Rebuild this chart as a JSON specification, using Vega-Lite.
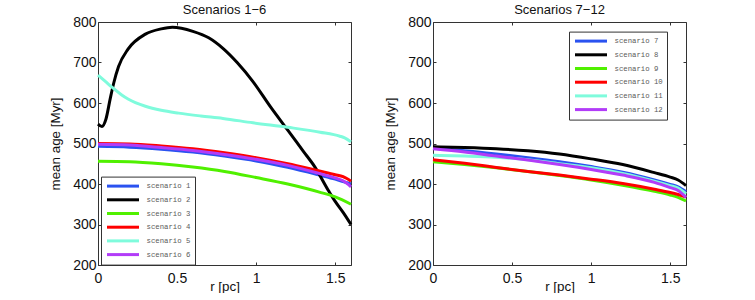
{
  "$schema": "https://vega.github.io/schema/vega-lite/v6.json",
  "padding": {"left": 48, "top": 3, "right": 5, "bottom": 0},
  "config": {
    "font": "Liberation Sans",
    "view": {"stroke": "#333", "strokeWidth": 1},
    "axis": {"grid": false, "domain": false, "tickColor": "#333", "tickSize": -3, "labelFontSize": 14, "labelColor": "#111", "titleFontSize": 13.4, "titleFontWeight": "normal", "titleColor": "#111", "labelFont": "Liberation Sans", "titleFont": "Liberation Sans", "labelFlush": false},
    "title": {"fontSize": 13, "fontWeight": "normal", "font": "Liberation Sans", "color": "#111", "offset": -2},
    "legend": {"title": null, "symbolType": "M-4,0H4", "symbolStrokeWidth": 3, "symbolSize": 64, "symbolOffset": 12.5, "labelFont": "Liberation Mono", "labelFontSize": 7.3, "labelColor": "#5a5a5a", "strokeColor": "#333", "fillColor": "white", "padding": 4, "rowPadding": 0.7, "labelOffset": 18, "labelExpr": "datum.label + '\u00a0\u00a0'"}
  },
  "datasets": {
    "a": [
      {"s": "scenario 1", "r": 0, "v": 493}, {"s": "scenario 1", "r": 0.2, "v": 491}, {"s": "scenario 1", "r": 0.4, "v": 486}, {"s": "scenario 1", "r": 0.6, "v": 479}, {"s": "scenario 1", "r": 0.8, "v": 469}, {"s": "scenario 1", "r": 1.0, "v": 457}, {"s": "scenario 1", "r": 1.2, "v": 441}, {"s": "scenario 1", "r": 1.4, "v": 422}, {"s": "scenario 1", "r": 1.5, "v": 412}, {"s": "scenario 1", "r": 1.55, "v": 406}, {"s": "scenario 1", "r": 1.6, "v": 400},
      {"s": "scenario 2", "r": 0, "v": 548}, {"s": "scenario 2", "r": 0.025, "v": 542}, {"s": "scenario 2", "r": 0.05, "v": 560}, {"s": "scenario 2", "r": 0.078, "v": 612}, {"s": "scenario 2", "r": 0.1, "v": 650}, {"s": "scenario 2", "r": 0.13, "v": 690}, {"s": "scenario 2", "r": 0.19, "v": 733}, {"s": "scenario 2", "r": 0.3, "v": 770}, {"s": "scenario 2", "r": 0.4, "v": 783}, {"s": "scenario 2", "r": 0.47, "v": 787}, {"s": "scenario 2", "r": 0.6, "v": 777}, {"s": "scenario 2", "r": 0.7, "v": 761}, {"s": "scenario 2", "r": 0.79, "v": 735}, {"s": "scenario 2", "r": 0.88, "v": 700}, {"s": "scenario 2", "r": 0.98, "v": 653}, {"s": "scenario 2", "r": 1.09, "v": 591}, {"s": "scenario 2", "r": 1.2, "v": 533}, {"s": "scenario 2", "r": 1.3, "v": 480}, {"s": "scenario 2", "r": 1.37, "v": 443}, {"s": "scenario 2", "r": 1.46, "v": 382}, {"s": "scenario 2", "r": 1.5, "v": 357}, {"s": "scenario 2", "r": 1.55, "v": 330}, {"s": "scenario 2", "r": 1.6, "v": 300},
      {"s": "scenario 3", "r": 0, "v": 456}, {"s": "scenario 3", "r": 0.2, "v": 455}, {"s": "scenario 3", "r": 0.4, "v": 450}, {"s": "scenario 3", "r": 0.6, "v": 442}, {"s": "scenario 3", "r": 0.8, "v": 431}, {"s": "scenario 3", "r": 1.0, "v": 416}, {"s": "scenario 3", "r": 1.2, "v": 400}, {"s": "scenario 3", "r": 1.4, "v": 380}, {"s": "scenario 3", "r": 1.5, "v": 368}, {"s": "scenario 3", "r": 1.6, "v": 350},
      {"s": "scenario 4", "r": 0, "v": 500}, {"s": "scenario 4", "r": 0.2, "v": 499}, {"s": "scenario 4", "r": 0.4, "v": 494}, {"s": "scenario 4", "r": 0.6, "v": 487}, {"s": "scenario 4", "r": 0.8, "v": 477}, {"s": "scenario 4", "r": 1.0, "v": 465}, {"s": "scenario 4", "r": 1.2, "v": 450}, {"s": "scenario 4", "r": 1.4, "v": 432}, {"s": "scenario 4", "r": 1.5, "v": 423}, {"s": "scenario 4", "r": 1.55, "v": 418}, {"s": "scenario 4", "r": 1.6, "v": 407},
      {"s": "scenario 5", "r": 0, "v": 669}, {"s": "scenario 5", "r": 0.05, "v": 652}, {"s": "scenario 5", "r": 0.088, "v": 639}, {"s": "scenario 5", "r": 0.15, "v": 620}, {"s": "scenario 5", "r": 0.19, "v": 610}, {"s": "scenario 5", "r": 0.3, "v": 592}, {"s": "scenario 5", "r": 0.4, "v": 582}, {"s": "scenario 5", "r": 0.51, "v": 575}, {"s": "scenario 5", "r": 0.65, "v": 568}, {"s": "scenario 5", "r": 0.79, "v": 562}, {"s": "scenario 5", "r": 0.98, "v": 551}, {"s": "scenario 5", "r": 1.2, "v": 540}, {"s": "scenario 5", "r": 1.405, "v": 528}, {"s": "scenario 5", "r": 1.53, "v": 518}, {"s": "scenario 5", "r": 1.56, "v": 514}, {"s": "scenario 5", "r": 1.6, "v": 504},
      {"s": "scenario 6", "r": 0, "v": 498}, {"s": "scenario 6", "r": 0.2, "v": 496}, {"s": "scenario 6", "r": 0.4, "v": 490}, {"s": "scenario 6", "r": 0.6, "v": 483}, {"s": "scenario 6", "r": 0.8, "v": 473}, {"s": "scenario 6", "r": 1.0, "v": 461}, {"s": "scenario 6", "r": 1.2, "v": 446}, {"s": "scenario 6", "r": 1.4, "v": 426}, {"s": "scenario 6", "r": 1.5, "v": 415}, {"s": "scenario 6", "r": 1.55, "v": 408}, {"s": "scenario 6", "r": 1.6, "v": 393}
    ],
    "b": [
      {"s": "scenario 7", "r": 0, "v": 488}, {"s": "scenario 7", "r": 0.2, "v": 482}, {"s": "scenario 7", "r": 0.4, "v": 474}, {"s": "scenario 7", "r": 0.6, "v": 465}, {"s": "scenario 7", "r": 0.8, "v": 455}, {"s": "scenario 7", "r": 1.0, "v": 443}, {"s": "scenario 7", "r": 1.2, "v": 429}, {"s": "scenario 7", "r": 1.4, "v": 410}, {"s": "scenario 7", "r": 1.5, "v": 399}, {"s": "scenario 7", "r": 1.55, "v": 393}, {"s": "scenario 7", "r": 1.6, "v": 381},
      {"s": "scenario 8", "r": 0, "v": 492}, {"s": "scenario 8", "r": 0.2, "v": 490}, {"s": "scenario 8", "r": 0.4, "v": 487}, {"s": "scenario 8", "r": 0.6, "v": 482}, {"s": "scenario 8", "r": 0.8, "v": 474}, {"s": "scenario 8", "r": 1.0, "v": 462}, {"s": "scenario 8", "r": 1.2, "v": 448}, {"s": "scenario 8", "r": 1.4, "v": 428}, {"s": "scenario 8", "r": 1.5, "v": 417}, {"s": "scenario 8", "r": 1.55, "v": 410}, {"s": "scenario 8", "r": 1.6, "v": 396},
      {"s": "scenario 9", "r": 0, "v": 455}, {"s": "scenario 9", "r": 0.2, "v": 448}, {"s": "scenario 9", "r": 0.4, "v": 440}, {"s": "scenario 9", "r": 0.6, "v": 431}, {"s": "scenario 9", "r": 0.8, "v": 421}, {"s": "scenario 9", "r": 1.0, "v": 410}, {"s": "scenario 9", "r": 1.2, "v": 397}, {"s": "scenario 9", "r": 1.4, "v": 382}, {"s": "scenario 9", "r": 1.5, "v": 373}, {"s": "scenario 9", "r": 1.55, "v": 367}, {"s": "scenario 9", "r": 1.6, "v": 358},
      {"s": "scenario 10", "r": 0, "v": 460}, {"s": "scenario 10", "r": 0.2, "v": 451}, {"s": "scenario 10", "r": 0.4, "v": 441}, {"s": "scenario 10", "r": 0.6, "v": 431}, {"s": "scenario 10", "r": 0.8, "v": 422}, {"s": "scenario 10", "r": 1.0, "v": 412}, {"s": "scenario 10", "r": 1.2, "v": 401}, {"s": "scenario 10", "r": 1.4, "v": 387}, {"s": "scenario 10", "r": 1.5, "v": 379}, {"s": "scenario 10", "r": 1.55, "v": 374}, {"s": "scenario 10", "r": 1.6, "v": 368},
      {"s": "scenario 11", "r": 0, "v": 471}, {"s": "scenario 11", "r": 0.2, "v": 469}, {"s": "scenario 11", "r": 0.4, "v": 466}, {"s": "scenario 11", "r": 0.6, "v": 460}, {"s": "scenario 11", "r": 0.8, "v": 450}, {"s": "scenario 11", "r": 1.0, "v": 440}, {"s": "scenario 11", "r": 1.2, "v": 426}, {"s": "scenario 11", "r": 1.4, "v": 407}, {"s": "scenario 11", "r": 1.5, "v": 396}, {"s": "scenario 11", "r": 1.55, "v": 390}, {"s": "scenario 11", "r": 1.6, "v": 376},
      {"s": "scenario 12", "r": 0, "v": 487}, {"s": "scenario 12", "r": 0.2, "v": 479}, {"s": "scenario 12", "r": 0.4, "v": 469}, {"s": "scenario 12", "r": 0.6, "v": 459}, {"s": "scenario 12", "r": 0.8, "v": 448}, {"s": "scenario 12", "r": 1.0, "v": 436}, {"s": "scenario 12", "r": 1.2, "v": 422}, {"s": "scenario 12", "r": 1.4, "v": 404}, {"s": "scenario 12", "r": 1.5, "v": 391}, {"s": "scenario 12", "r": 1.55, "v": 384}, {"s": "scenario 12", "r": 1.6, "v": 367}
    ]
  },
  "spacing": 25,
  "resolve": {"scale": {"color": "independent"}, "legend": {"color": "independent"}},
  "hconcat": [
    {
      "width": 253, "height": 243,
      "title": "Scenarios 1−6",
      "data": {"name": "a"},
      "resolve": {"axis": {"x": "independent", "y": "independent"}},
      "layer": [
        {
          "mark": {"type": "line", "strokeWidth": 3, "interpolate": "monotone"},
          "encoding": {
            "x": {"field": "r", "type": "quantitative", "scale": {"domain": [0, 1.6]}, "axis": {"values": [0, 0.5, 1, 1.5], "format": "~g", "title": "r [pc]", "labelPadding": 9, "titlePadding": -6}},
            "y": {"field": "v", "type": "quantitative", "scale": {"domain": [200, 800]}, "axis": {"values": [200, 300, 400, 500, 600, 700, 800], "title": "mean age [Myr]", "labelPadding": 5, "titlePadding": 10}},
            "color": {"field": "s", "type": "nominal", "scale": {"domain": ["scenario 1", "scenario 2", "scenario 3", "scenario 4", "scenario 5", "scenario 6"], "range": ["#2a52f0", "#000000", "#50f000", "#ff0000", "#7ffbdc", "#b23cf8"]}, "legend": {"orient": "none", "legendX": 3, "legendY": 154.6}}
          }
        },
        {
          "mark": {"type": "point", "opacity": 0},
          "encoding": {
            "x": {"field": "r", "type": "quantitative", "scale": {"domain": [0, 1.6]}, "axis": {"orient": "top", "values": [0, 0.5, 1, 1.5], "labels": false, "title": null}},
            "y": {"field": "v", "type": "quantitative", "scale": {"domain": [200, 800]}, "axis": {"orient": "right", "values": [200, 300, 400, 500, 600, 700, 800], "labels": false, "title": null}}
          }
        }
      ]
    },
    {
      "width": 253, "height": 243,
      "title": "Scenarios 7−12",
      "data": {"name": "b"},
      "resolve": {"axis": {"x": "independent", "y": "independent"}},
      "layer": [
        {
          "mark": {"type": "line", "strokeWidth": 3, "interpolate": "monotone"},
          "encoding": {
            "x": {"field": "r", "type": "quantitative", "scale": {"domain": [0, 1.6]}, "axis": {"values": [0, 0.5, 1, 1.5], "format": "~g", "title": "r [pc]", "labelPadding": 9, "titlePadding": -6}},
            "y": {"field": "v", "type": "quantitative", "scale": {"domain": [200, 800]}, "axis": {"values": [200, 300, 400, 500, 600, 700, 800], "title": "mean age [Myr]", "labelPadding": 5, "titlePadding": 10}},
            "color": {"field": "s", "type": "nominal", "scale": {"domain": ["scenario 7", "scenario 8", "scenario 9", "scenario 10", "scenario 11", "scenario 12"], "range": ["#2a52f0", "#000000", "#50f000", "#ff0000", "#7ffbdc", "#b23cf8"]}, "legend": {"orient": "none", "legendX": 136, "legendY": 9.6}}
          }
        },
        {
          "mark": {"type": "point", "opacity": 0},
          "encoding": {
            "x": {"field": "r", "type": "quantitative", "scale": {"domain": [0, 1.6]}, "axis": {"orient": "top", "values": [0, 0.5, 1, 1.5], "labels": false, "title": null}},
            "y": {"field": "v", "type": "quantitative", "scale": {"domain": [200, 800]}, "axis": {"orient": "right", "values": [200, 300, 400, 500, 600, 700, 800], "labels": false, "title": null}}
          }
        }
      ]
    }
  ]
}
